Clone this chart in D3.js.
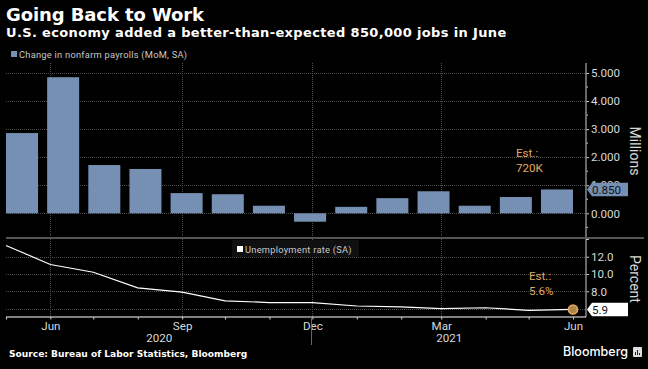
<!DOCTYPE html>
<html><head><meta charset="utf-8">
<script src="https://cdn.jsdelivr.net/npm/d3@7"></script>
<style>
html,body{margin:0;padding:0;background:#000;}
svg{display:block;}
</style></head><body><svg id="c" width="648" height="369" font-family="'DejaVu Sans',sans-serif"></svg>
<script>
const months = ["2020-05","2020-06","2020-07","2020-08","2020-09","2020-10","2020-11","2020-12","2021-01","2021-02","2021-03","2021-04","2021-05","2021-06"];
const payrolls = [2.86,4.85,1.72,1.58,0.72,0.68,0.27,-0.30,0.23,0.54,0.785,0.27,0.58,0.85];
const unemployment = [13.3,11.1,10.2,8.4,7.9,6.9,6.7,6.7,6.3,6.2,6.0,6.1,5.8,5.9];
const payrollTicks = [0,1,2,3,4,5];
const rateTicks = [6,8,10,12];
const labelledMonths = {"2020-06":"Jun","2020-09":"Sep","2020-12":"Dec","2021-03":"Mar","2021-06":"Jun"};
const years = ["2020","2021"];
const yearStarts = ["2020-05","2020-12"];
const yearEnds = ["2020-12","2021-06"];

const parse = d3.utcParse("%Y-%m");
const svg = d3.select("#c");
svg.append("rect").attr("width",648).attr("height",369).attr("fill","#000");

const x = d3.scaleUtc().domain([parse(months[0]),parse(months[months.length-1])]).range([6,573]);
const band = d3.scaleBand().domain(months).range([6,573]).paddingInner(0.222).paddingOuter(0);
const y1 = d3.scaleLinear().domain([0,5]).range([213.3,73]);
const y2 = d3.scaleLinear().domain([8,12]).range([291.3,256.7]);
const axisX = 586, gridGray = "#4f4f4f", textGray = "#d9d9d9", roboto = "Roboto, sans-serif";

function hgrid(ticks,y){
  svg.append("g").selectAll("line").data(ticks).join("line")
    .attr("x1",6).attr("x2",axisX).attr("y1",d=>Math.round(y(d))+.5).attr("y2",d=>Math.round(y(d))+.5)
    .attr("stroke",gridGray).attr("stroke-width",1).attr("stroke-dasharray","1 1");
}
hgrid(payrollTicks,y1);
hgrid(rateTicks,y2);

// vertical month gridlines
const gridMonths = months.filter(m=>labelledMonths[m] && m!=="2021-06");
svg.append("g").selectAll("line").data(gridMonths).join("line")
  .attr("x1",d=>Math.round(x(parse(d)))+.5).attr("x2",d=>Math.round(x(parse(d)))+.5)
  .attr("y1",63).attr("y2",317)
  .attr("stroke",gridGray).attr("stroke-dasharray","1 1");

// bars
svg.append("g").selectAll("rect").data(months).join("rect")
  .attr("x",d=>band(d)).attr("width",band.bandwidth())
  .attr("y",(d,i)=>y1(Math.max(0,payrolls[i])))
  .attr("height",(d,i)=>Math.abs(y1(payrolls[i])-y1(0)))
  .attr("fill","#7590b3");

// panel separator
svg.append("line").attr("x1",6).attr("x2",644).attr("y1",238).attr("y2",238).attr("stroke","#555").attr("stroke-width",2);

// right axes
const a1 = d3.axisRight(y1).tickValues(payrollTicks).tickFormat(d3.format(".3f")).tickSize(3).tickPadding(2);
const a1g = svg.append("g").attr("transform",`translate(${axisX},0)`).call(a1);
const a2 = d3.axisRight(y2).tickValues(rateTicks.slice(1)).tickFormat(d3.format(".1f")).tickSize(3).tickPadding(2);
const a2g = svg.append("g").attr("transform",`translate(${axisX},0)`).call(a2);
[a1g,a2g].forEach(g=>{
  g.select(".domain").remove();
  g.selectAll("line").attr("stroke","#cfcfcf");
  g.selectAll("text").attr("fill",textGray).attr("font-size",11.6).attr("font-family",roboto);
});
// minor ticks
svg.append("g").selectAll("line").data([-0.5,0.5,1.5,2.5,3.5,4.5]).join("line")
  .attr("x1",axisX).attr("x2",axisX+2).attr("y1",d=>y1(d)).attr("y2",d=>y1(d)).attr("stroke","#cfcfcf");
svg.append("line").attr("x1",axisX).attr("x2",axisX).attr("y1",63).attr("y2",237).attr("stroke","#8a8a8a").attr("stroke-width",1.5);
svg.append("line").attr("x1",axisX).attr("x2",axisX).attr("y1",239).attr("y2",317).attr("stroke","#8a8a8a").attr("stroke-width",1.5);
svg.append("line").attr("x1",axisX).attr("x2",axisX+3).attr("y1",y2(14)).attr("y2",y2(14)).attr("stroke","#cfcfcf");

// line
const line = d3.line().x((d,i)=>x(parse(months[i]))).y(d=>y2(d));
svg.append("path").datum(unemployment).attr("d",line).attr("fill","none").attr("stroke","#fff").attr("stroke-width",1.2);

// bottom axis
svg.append("line").attr("x1",6).attr("x2",axisX).attr("y1",317).attr("y2",317).attr("stroke","#fff").attr("stroke-width",1.2);
const ax = d3.axisBottom(x).tickValues(months.map(parse)).tickSize(2.5).tickFormat(d=>labelledMonths[d3.utcFormat("%Y-%m")(d)]||"").tickPadding(2);
const axg = svg.append("g").attr("transform","translate(0,317)").call(ax);
axg.select(".domain").remove();
axg.selectAll("line").attr("stroke","#cfcfcf");
axg.selectAll("text").attr("fill",textGray).attr("font-size",11.6).attr("font-family",roboto);
svg.append("g").selectAll("text").data(years).join("text")
  .attr("x",(d,i)=>(x(parse(yearStarts[i]))+(i===1?axisX:x(parse(yearEnds[i]))))/2).attr("y",342).attr("text-anchor","middle")
  .attr("fill",textGray).attr("font-size",11.6).attr("font-family",roboto).text(d=>d);
svg.append("line").attr("x1",311.5).attr("x2",311.5).attr("y1",317).attr("y2",345).attr("stroke","#666");

// titles
svg.append("text").attr("x",6).attr("y",21).attr("fill","#fff").attr("font-size",18).attr("font-weight",700).attr("letter-spacing",-.1).text("Going Back to Work");
svg.append("text").attr("x",6).attr("y",37).attr("fill","#fff").attr("font-size",13).attr("font-weight",700).attr("letter-spacing",.35).text("U.S. economy added a better-than-expected 850,000 jobs in June");
svg.append("text").attr("x",9).attr("y",357).attr("fill","#fff").attr("font-size",9.1).attr("font-weight",700).text("Source: Bureau of Labor Statistics, Bloomberg");

// legends
svg.append("rect").attr("x",11).attr("y",51).attr("width",6).attr("height",6).attr("fill","#7590b3");
svg.append("text").attr("x",19).attr("y",58).attr("fill","#c8c8c8").attr("font-size",9.3).attr("font-family",roboto).attr("letter-spacing",.25).text("Change in nonfarm payrolls (MoM, SA)");
svg.append("rect").attr("x",232).attr("y",240).attr("width",127).attr("height",17).attr("fill","#101010");
svg.append("rect").attr("x",237).attr("y",246).attr("width",6).attr("height",6).attr("fill","#fff");
svg.append("text").attr("x",245).attr("y",252.5).attr("fill","#c8c8c8").attr("font-size",9.3).attr("font-family",roboto).attr("letter-spacing",.25).text("Unemployment rate (SA)");

// unit labels
function vlabel(t,cx,cy){svg.append("text").attr("transform",`translate(${cx},${cy}) rotate(90)`).attr("text-anchor","middle").attr("fill",textGray).attr("font-size",14).attr("font-family",roboto).text(t);}
vlabel("Millions",630,151);
vlabel("Percent",630,279);

// estimates
const est="#e3a862";
[["Est.:",516,157],["720K",516,172],["Est.:",529,280],["5.6%",529,294.5]].forEach(([t,tx,ty])=>
  svg.append("text").attr("x",tx).attr("y",ty).attr("fill",est).attr("font-size",11.6).attr("font-family",roboto).text(t));

// value tags
function tag(yv,fill,txtFill,t){
  const h=13.5,l=axisX+1;
  svg.append("path").attr("d",`M${l},${yv} L${l+5},${yv-h/2} H628 V${yv+h/2} H${l+5} Z`).attr("fill",fill);
  svg.append("text").attr("x",592).attr("y",yv+4.5).attr("fill",txtFill).attr("font-size",11.6).attr("font-family",roboto).text(t);
}
tag(y1(payrolls[13]),"#7590b3","#111","0.850");
tag(y2(unemployment[13]),"#fff","#111","5.9");

// last-point marker
svg.append("circle").attr("cx",x(parse(months[13]))).attr("cy",y2(unemployment[13])).attr("r",4.5).attr("fill","#b08648").attr("stroke",est).attr("stroke-width",1.6);

// logo
svg.append("text").attr("x",563).attr("y",356).attr("fill","#fff").attr("font-size",12.5).attr("font-weight",500).attr("font-family","Inter, sans-serif").text("Bloomberg");
svg.append("rect").attr("x",633).attr("y",347).attr("width",9).attr("height",10).attr("rx",1).attr("fill","#ddd");
svg.append("g").selectAll("rect").data([3,5,2]).join("rect")
  .attr("x",(d,i)=>635+i*2).attr("y",d=>355-d).attr("width",1).attr("height",d=>d).attr("fill","#222");
</script></body></html>
